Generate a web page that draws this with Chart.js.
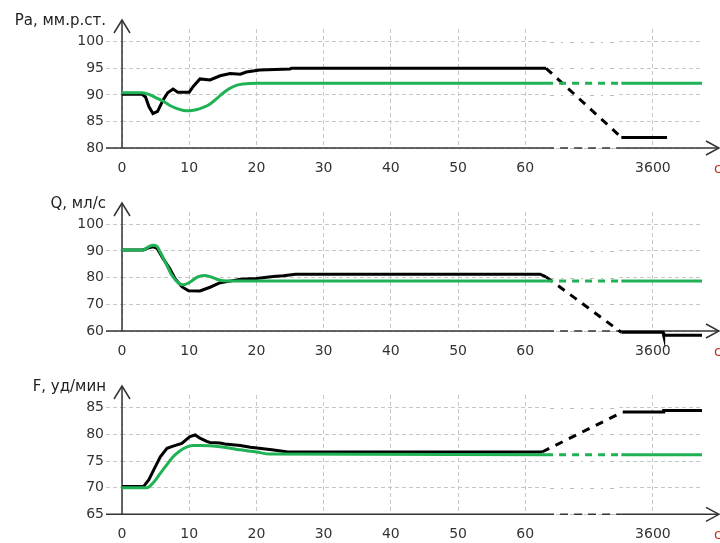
<!DOCTYPE html>
<html>
<head>
<meta charset="utf-8">
<script src="https://cdn.jsdelivr.net/npm/chart.js@4"></script>
<style>
body { margin: 0; width: 720px; height: 543px; overflow: hidden; background: #fff; position: relative; font-family: 'DejaVu Sans', sans-serif; }
.panel { position: absolute; left: 0; width: 720px; }
.title { position: absolute; left: 0; width: 106px; text-align: right; font-size: 15px; line-height: 16px; color: #222; white-space: nowrap; }
.unit { position: absolute; left: 714px; font-size: 14px; line-height: 16px; color: #c0301c; }
</style>
</head>
<body>
<script>
// x axis is broken: 0..63 s is linear, then a gap, and 79 on the axis is the 3600 s mark
const xTicks = [0, 10, 20, 30, 40, 50, 60, 79];
const xTickLabels = ['0', '10', '20', '30', '40', '50', '60', '3600'];
const BREAK_START = 63.1;
const BREAK_END = 74.3;

const paTicks = [80, 85, 90, 95, 100];
const qTicks = [60, 70, 80, 90, 100];
const fTicks = [65, 70, 75, 80, 85];

// [time, value]
const paBlack = [[0,90.1],[3,90.1],[3.5,89.6],[4,87.8],[4.6,86.5],[5.3,86.9],[6.1,89],[6.8,90.4],[7.6,91.1],[8.3,90.5],[10,90.5],
  [10.6,91.6],[11.6,93.0],[13.1,92.8],[14.6,93.6],[16.1,94.0],[17.6,93.9],[18.5,94.3],[20.5,94.7],[25,94.85],[25.2,95.0],[63.1,95.0],
  [74.3,82.0],[81.1,82.0]];
const paGreen = [[0,90.4],[3,90.4],[4,90.1],[5,89.5],[6,88.9],[7,88.1],[8,87.5],[9,87.1],[10,87.0],[11,87.2],[12,87.6],[13,88.2],
  [14,89.2],[15,90.3],[16,91.2],[17,91.8],[18,92.05],[20,92.2],[63.1,92.2],[74.3,92.2],[86.3,92.2]];

const qBlack = [[0,90.4],[3.2,90.4],[3.8,91.1],[4.6,91.6],[5.2,91.0],[6.1,87.2],[7.1,83.4],[7.9,79.6],[8.9,76.6],[9.9,75.1],[11.6,75.0],
  [13.1,76.4],[14.6,78.1],[16.1,78.7],[17.6,79.4],[20,79.7],[22.5,80.4],[24,80.7],[25.8,81.3],[62.2,81.3],[63.1,80.3],
  [74.3,59.5],[80.5,59.5],[80.6,58.4],[86.3,58.4]];
const qGreen = [[0,90.4],[3.2,90.4],[4.0,91.6],[4.6,92.1],[5.2,91.7],[5.7,89.5],[6.6,85],[7.4,81],[8.4,78],[9.1,77.3],[10.1,78.3],
  [11.2,80.2],[12.2,80.8],[13.1,80.4],[14.1,79.4],[15.1,78.8],[16.5,78.7],[63.1,78.7],[74.3,78.7],[86.3,78.7]];

const fBlack = [[0,70.2],[3.2,70.2],[4.0,71.5],[4.7,73.3],[5.7,75.8],[6.7,77.4],[7.6,77.8],[8.9,78.3],[10.1,79.6],[10.9,79.9],[11.6,79.3],
  [12.6,78.7],[13.1,78.5],[14.6,78.4],[15.3,78.2],[17.6,77.9],[19.1,77.6],[22.3,77.1],[24.7,76.7],[62.5,76.7],
  [74.5,84.2],[80.5,84.2],[80.6,84.5],[86.3,84.5]];
const fGreen = [[0,70.0],[3.7,70.0],[4.7,71.0],[5.7,72.7],[6.6,74.2],[7.6,75.8],[8.6,76.9],[9.6,77.6],[10.6,77.9],[11.6,77.9],
  [14.6,77.7],[16.6,77.3],[17.6,77.1],[20,76.7],[22,76.3],[63.1,76.2],[74.3,76.2],[86.3,76.2]];

const GREEN = '#1fb255';
const GRID = '#c6c6c6';

const panels = [
  { title: 'Ра, мм.р.ст.', h: 180, top: 29, bottom: 148, yMin: 80, yMax: 102.4, yTicks: paTicks, black: paBlack, green: paGreen },
  { title: 'Q, мл/с', h: 180, top: 32, bottom: 151, yMin: 60, yMax: 104.6, yTicks: qTicks, black: qBlack, green: qGreen },
  { title: 'F, уд/мин', h: 183, top: 35, bottom: 154.3, yMin: 65, yMax: 87.4, yTicks: fTicks, black: fBlack, green: fGreen }
];

const inBreak = c => c.p0.parsed.x >= 62 && c.p1.parsed.x <= 75 && (c.p1.parsed.x - c.p0.parsed.x) > 5;

function line(ctx, x1, y1, x2, y2) {
  ctx.beginPath();
  ctx.moveTo(x1, y1);
  ctx.lineTo(x2, y2);
  ctx.stroke();
}

const axesPlugin = {
  id: 'axes',
  beforeDatasetsDraw(chart) {
    const { ctx, chartArea: a, scales: { x, y } } = chart;
    const x0 = x.getPixelForValue(BREAK_START);
    const x1 = x.getPixelForValue(BREAK_END);
    ctx.save();
    // sparser grid across the break
    ctx.fillStyle = '#fff';
    ctx.fillRect(x0 + 2, a.top - 1, x1 - x0 - 4, a.bottom - a.top);
    ctx.strokeStyle = '#bbbbbb';
    ctx.lineWidth = 1;
    ctx.setLineDash([4, 7, 2, 7]);
    y.ticks.forEach(t => {
      const py = Math.round(y.getPixelForValue(t.value)) + 0.5;
      line(ctx, x0 + 4, py, x1 - 2, py);
    });

    const by = y.getPixelForValue(y.min);
    const tipX = 719;
    const tipY = a.top - 9;
    ctx.strokeStyle = '#333';
    ctx.lineWidth = 1.5;
    ctx.setLineDash([]);
    line(ctx, a.left - 16, by, x0, by);
    line(ctx, x1, by, tipX, by);
    ctx.setLineDash([8, 6]);
    line(ctx, x0, by, x1, by);
    ctx.setLineDash([]);
    line(ctx, a.left, by, a.left, tipY);
    // arrow heads
    ctx.beginPath();
    ctx.moveTo(a.left - 8, tipY + 13);
    ctx.lineTo(a.left, tipY);
    ctx.lineTo(a.left + 8, tipY + 13);
    ctx.stroke();
    ctx.beginPath();
    ctx.moveTo(tipX - 13, by - 7);
    ctx.lineTo(tipX, by);
    ctx.lineTo(tipX - 13, by + 7);
    ctx.stroke();
    ctx.restore();
  }
};

let offset = 0;
panels.forEach((p, i) => {
  const div = document.createElement('div');
  div.className = 'panel';
  div.style.top = offset + 'px';
  div.style.height = p.h + 'px';
  div.innerHTML = `<canvas width="720" height="${p.h}"></canvas>
    <div class="title" style="top:${p.top - 17}px">${p.title}</div>
    <div class="unit" style="top:${p.bottom + 12}px">с</div>`;
  document.body.appendChild(div);
  offset += p.h;

  new Chart(div.querySelector('canvas'), {
    type: 'line',
    data: {
      datasets: [
        {
          data: p.green.map(([x, y]) => ({ x, y })),
          borderColor: GREEN,
          borderWidth: 3,
          pointRadius: 0,
          cubicInterpolationMode: 'monotone',
          clip: false,
          segment: { borderDash: c => inBreak(c) ? [7, 6] : undefined }
        },
        {
          data: p.black.map(([x, y]) => ({ x, y })),
          borderColor: '#000',
          borderWidth: 3,
          pointRadius: 0,
          clip: false,
          segment: { borderDash: c => inBreak(c) ? [8, 7] : undefined }
        }
      ]
    },
    options: {
      responsive: false,
      animation: false,
      layout: { padding: { top: p.top, right: 18, left: 0, bottom: 0 } },
      plugins: { legend: { display: false }, tooltip: { enabled: false } },
      scales: {
        x: {
          type: 'linear',
          min: 0,
          max: 86.3,
          afterBuildTicks: s => { s.ticks = xTicks.map(v => ({ value: v })); },
          afterFit: s => { s.height = p.h - p.bottom; },
          border: { display: false, dash: [4, 3] },
          grid: { color: GRID, drawTicks: false },
          ticks: {
            padding: 12,
            color: '#333',
            font: { family: 'DejaVu Sans', size: 14 },
            maxRotation: 0,
            autoSkip: false,
            callback: v => xTickLabels[xTicks.indexOf(v)]
          }
        },
        y: {
          min: p.yMin,
          max: p.yMax,
          afterBuildTicks: s => { s.ticks = p.yTicks.map(v => ({ value: v })); },
          afterFit: s => { s.width = 122; },
          border: { display: false, dash: [4, 3] },
          grid: { color: GRID, tickLength: 16, tickColor: GRID, tickBorderDash: [4, 3] },
          ticks: {
            padding: 2,
            color: '#333',
            font: { family: 'DejaVu Sans', size: 14 }
          }
        }
      }
    },
    plugins: [axesPlugin]
  });
});
</script>
</body>
</html>
